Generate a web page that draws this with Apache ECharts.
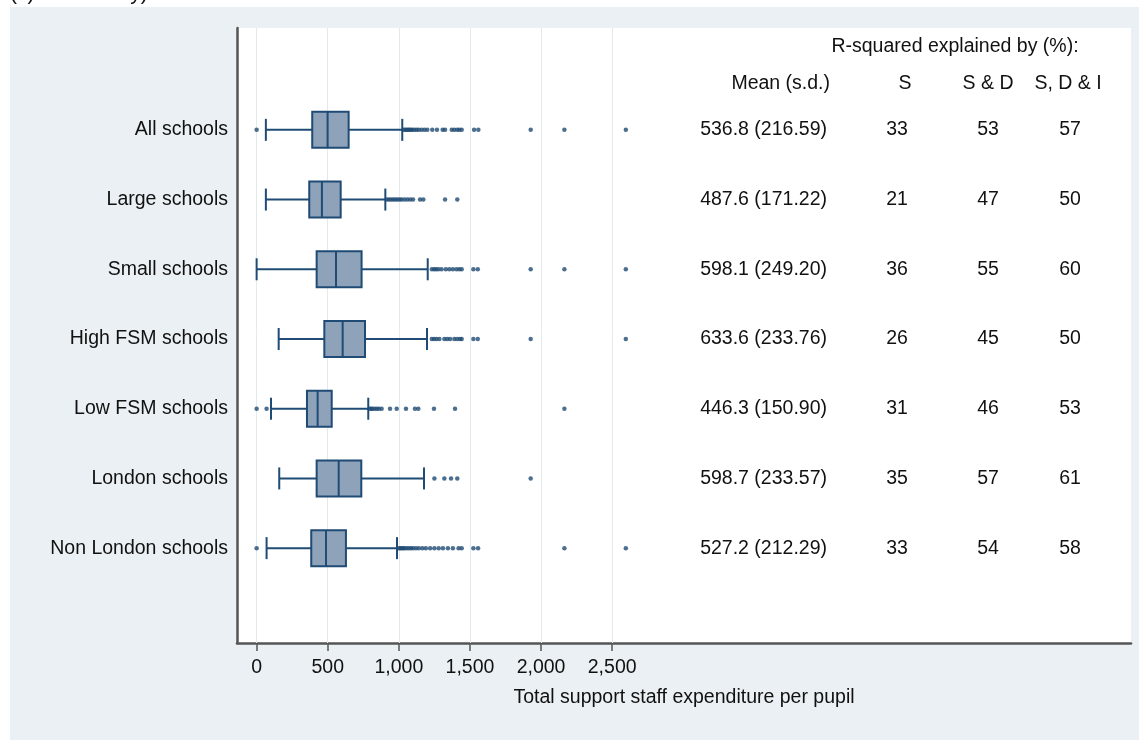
<!DOCTYPE html>
<html>
<head>
<meta charset="utf-8">
<script src="https://cdn.jsdelivr.net/npm/echarts@6/dist/echarts.min.js"></script>
<style>
  html, body { margin: 0; padding: 0; background: #ffffff; }
  #wrap { position: relative; width: 1139px; height: 740px; overflow: hidden; }
  #bg { position: absolute; left: 10px; top: 7px; right: 0; bottom: 0; background: #eaf0f3; }
  #c { position: absolute; left: 0; top: 0; width: 1139px; height: 740px; }
</style>
</head>
<body>
<div id="wrap"><div id="bg"></div><div id="c"></div></div>
<script>
// School groups, top to bottom
const groups = ['All schools', 'Large schools', 'Small schools', 'High FSM schools',
                'Low FSM schools', 'London schools', 'Non London schools'];

// Box statistics per group: [lower whisker, Q1, median, Q3, upper whisker]
const boxAll      = [65, 391, 499, 647, 1024];
const boxLarge    = [65, 370, 459, 591, 905];
const boxSmall    = [0, 422, 558, 738, 1203];
const boxHighFSM  = [155, 476, 605, 762, 1198];
const boxLowFSM   = [101, 354, 429, 528, 785];
const boxLondon   = [159, 422, 577, 736, 1177];
const boxNonLon   = [70, 384, 488, 628, 987];

// Outside values per group
const outAll     = [0, 1035, 1045, 1055, 1065, 1075, 1085, 1095, 1110, 1125, 1140, 1160, 1180, 1200,
                    1235, 1268, 1308, 1325, 1372, 1390, 1410, 1425, 1442, 1529, 1559, 1927, 2164, 2596];
const outLarge   = [915, 930, 945, 960, 975, 990, 1005, 1020, 1040, 1060, 1080, 1100, 1149, 1172, 1325, 1411];
const outSmall   = [1232, 1248, 1262, 1278, 1300, 1330, 1355, 1380, 1405, 1425, 1442, 1524, 1555, 1927, 2164, 2596];
const outHighFSM = [1232, 1248, 1265, 1285, 1320, 1340, 1360, 1390, 1410, 1430, 1442, 1524, 1555, 1927, 2596];
const outLowFSM  = [0, 70, 795, 805, 815, 830, 845, 860, 879, 938, 985, 1050, 1113, 1137, 1247, 1395, 2164];
const outLondon  = [1250, 1320, 1367, 1411, 1927];
const outNonLon  = [0, 1000, 1010, 1020, 1030, 1040, 1055, 1070, 1085, 1100, 1120, 1140, 1165, 1190, 1220,
                    1250, 1280, 1310, 1345, 1380, 1420, 1442, 1524, 1557, 2164, 2596];

// Summary table
const meanText = ['536.8 (216.59)', '487.6 (171.22)', '598.1 (249.20)', '633.6 (233.76)',
                  '446.3 (150.90)', '598.7 (233.57)', '527.2 (212.29)'];
const rsqS   = [33, 21, 36, 26, 31, 35, 33];
const rsqSD  = [53, 47, 55, 45, 46, 57, 54];
const rsqSDI = [57, 50, 60, 50, 53, 61, 58];

// Axis ticks
const xTicks = [0, 500, 1000, 1500, 2000, 2500];

const boxes = [boxAll, boxLarge, boxSmall, boxHighFSM, boxLowFSM, boxLondon, boxNonLon];
const outs  = [outAll, outLarge, outSmall, outHighFSM, outLowFSM, outLondon, outNonLon];

const FONT = '"Liberation Sans", Arial, sans-serif';
const FS = 19.5;
const INK = '#111111';
const NAVY = '#1f4b74';
const FILL = '#8ea2ba';
const AXIS = '#555555';
const X_MIN = -138, X_MAX = 6148;
const BOX_H = 36, CAP_H = 22;

const boxData = boxes.map((b, i) => b.concat([i]));
const outlierData = [];
outs.forEach((list, i) => list.forEach(v => outlierData.push([v, groups[i]])));

// Horizontal box-and-whisker drawn through the axes' coordinate system
function renderBox(params, api) {
  const cat = api.value(5);
  const pLo = api.coord([api.value(0), cat]);
  const pQ1 = api.coord([api.value(1), cat]);
  const pMd = api.coord([api.value(2), cat]);
  const pQ3 = api.coord([api.value(3), cat]);
  const pHi = api.coord([api.value(4), cat]);
  const y = pMd[1];
  const line = { stroke: NAVY, lineWidth: 2 };
  return {
    type: 'group',
    children: [
      { type: 'line', shape: { x1: pLo[0], y1: y, x2: pQ1[0], y2: y }, style: line },
      { type: 'line', shape: { x1: pQ3[0], y1: y, x2: pHi[0], y2: y }, style: line },
      { type: 'line', shape: { x1: pLo[0], y1: y - CAP_H / 2, x2: pLo[0], y2: y + CAP_H / 2 }, style: line },
      { type: 'line', shape: { x1: pHi[0], y1: y - CAP_H / 2, x2: pHi[0], y2: y + CAP_H / 2 }, style: line },
      { type: 'rect', shape: { x: pQ1[0], y: y - BOX_H / 2, width: pQ3[0] - pQ1[0], height: BOX_H },
        style: { fill: FILL, stroke: NAVY, lineWidth: 2 } },
      { type: 'line', shape: { x1: pMd[0], y1: y - BOX_H / 2, x2: pMd[0], y2: y + BOX_H / 2 }, style: line }
    ]
  };
}

const chart = echarts.init(document.getElementById('c'), null, { renderer: 'canvas' });

chart.setOption({
  backgroundColor: 'transparent',
  animation: false,
  textStyle: { fontFamily: FONT, color: INK },
  grid: [
    { left: 237, right: 8, top: 28, bottom: 97, show: true, backgroundColor: '#ffffff', borderWidth: 0 },
    { left: 237, right: 8, top: 95, height: 488 }
  ],
  xAxis: [
    {
      type: 'value', gridIndex: 0, min: X_MIN, max: X_MAX,
      axisLine: { show: true, onZero: false, lineStyle: { color: AXIS, width: 2.5 } },
      axisTick: { show: true, customValues: xTicks, length: 8, lineStyle: { color: AXIS, width: 1.5 } },
      axisLabel: {
        customValues: xTicks, fontSize: FS, fontFamily: FONT, color: INK, margin: 15,
        formatter: v => Number(v).toLocaleString('en-US')
      },
      splitLine: { show: false },
      name: 'Total support staff expenditure per pupil',
      nameLocation: 'middle', nameGap: 45,
      nameTextStyle: { fontSize: FS, fontFamily: FONT, color: INK }
    },
    { type: 'value', gridIndex: 1, min: X_MIN, max: X_MAX, show: false }
  ],
  yAxis: [
    {
      type: 'value', gridIndex: 0, min: 0, max: 1,
      axisLine: { show: true, onZero: false, lineStyle: { color: AXIS, width: 2.5 } },
      axisTick: { show: false }, axisLabel: { show: false }, splitLine: { show: false }
    },
    {
      type: 'category', gridIndex: 1, data: groups, inverse: true,
      axisLine: { show: false }, axisTick: { show: false }, splitLine: { show: false },
      axisLabel: { fontSize: FS, fontFamily: FONT, color: INK, margin: 9 }
    }
  ],
  series: [
    {
      // vertical grid lines at the labelled ticks, kept beneath the boxes
      type: 'scatter', xAxisIndex: 0, yAxisIndex: 0, z: 1,
      data: [[0, 0.5]], symbolSize: 0, silent: true,
      markLine: {
        z: 1, silent: true, symbol: 'none', animation: false,
        label: { show: false },
        lineStyle: { color: '#e4e9ed', width: 1, type: 'solid' },
        data: xTicks.map(v => ({ xAxis: v }))
      }
    },
    {
      type: 'custom', xAxisIndex: 1, yAxisIndex: 1, z: 10,
      data: boxData,
      encode: { x: [0, 1, 2, 3, 4], y: 5 },
      renderItem: renderBox
    },
    {
      type: 'scatter', xAxisIndex: 1, yAxisIndex: 1, z: 11,
      data: outlierData, symbol: 'circle', symbolSize: 4.5,
      itemStyle: { color: NAVY }
    }
  ]
});

// Summary table aligned with each group's row
const rowY = groups.map(g => chart.convertToPixel({ yAxisIndex: 1 }, g));
const text = (x, y, str, align) => ({
  type: 'text', x: x, y: y, silent: true,
  style: { text: str, fontSize: FS, fontFamily: FONT, fill: INK, align: align, verticalAlign: 'middle' }
});
const COL_MEAN = 827, COL_S = 897, COL_SD = 988, COL_SDI = 1070;
const g = [];
g.push({
  type: 'text', left: 10, top: -16, silent: true,
  style: { text: '(c) Secondary)', fontSize: 21, fontFamily: FONT, fill: INK }
});
g.push(text(955, 47, 'R-squared explained by (%):', 'center'));
g.push(text(830, 84, 'Mean (s.d.)', 'right'));
g.push(text(905, 84, 'S', 'center'));
g.push(text(988, 84, 'S & D', 'center'));
g.push(text(1068, 84, 'S, D & I', 'center'));
groups.forEach((name, i) => {
  g.push(text(COL_MEAN, rowY[i], meanText[i], 'right'));
  g.push(text(COL_S, rowY[i], String(rsqS[i]), 'center'));
  g.push(text(COL_SD, rowY[i], String(rsqSD[i]), 'center'));
  g.push(text(COL_SDI, rowY[i], String(rsqSDI[i]), 'center'));
});
chart.setOption({ graphic: g });
</script>
</body>
</html>
